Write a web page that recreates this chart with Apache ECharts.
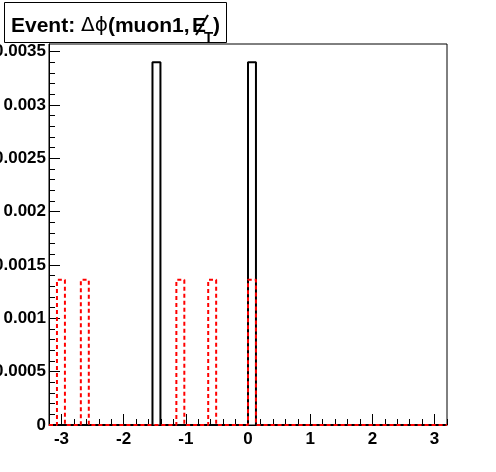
<!DOCTYPE html>
<html><head><meta charset="utf-8">
<script src="https://cdn.jsdelivr.net/npm/echarts@6/dist/echarts.min.js"></script>
<style>html,body{margin:0;padding:0;background:#fff}#c{width:496px;height:472px}</style>
</head><body><div id="c"></div>
<script>
// Histogram definition: 50 bins from -3.2 to 3.2
const xMin = -3.2, xMax = 3.2, nBins = 50;
const blackCounts = [
  0,0,0,0,0,0,0,0,0,0,
  0,0,0,0.0034,0,0,0,0,0,0,
  0,0,0,0,0,0.0034,0,0,0,0,
  0,0,0,0,0,0,0,0,0,0,
  0,0,0,0,0,0,0,0,0,0
];
const redCounts = [
  0,0.00136,0,0,0.00136,0,0,0,0,0,
  0,0,0,0,0,0,0.00136,0,0,0,
  0.00136,0,0,0,0,0.00136,0,0,0,0,
  0,0,0,0,0,0,0,0,0,0,
  0,0,0,0,0,0,0,0,0,0
];
const xTickLabels = [-3,-2,-1,0,1,2,3];
const yTickValues = [0,0.0005,0.001,0.0015,0.002,0.0025,0.003,0.0035];
const yMax = 0.00357;

function outline(counts){
  const w = (xMax - xMin) / nBins;
  const pts = [[xMin, 0]];
  counts.forEach((v, i) => {
    const l = xMin + i * w, r = l + w;
    pts.push([l, v], [r, v]);
  });
  pts.push([xMax, 0]);
  return pts;
}
const xMinor = [];
for (let k = -16; k <= 16; k++) xMinor.push(+(k * 0.2).toFixed(1));
const yMinor = [];
for (let k = 0; k <= 35; k++) yMinor.push(+(k * 0.0001).toFixed(4));

const font = 'Liberation Sans, Arial, Helvetica, sans-serif';
const chart = echarts.init(document.getElementById('c'), null, {renderer:'canvas'});
const grid = {left:49, right:49, top:44, bottom:47, show:true, borderColor:'#000', borderWidth:1, backgroundColor:'#fff', containLabel:false, outerBoundsMode:'none'};
const tickStyle = {color:'#000', width:1};
chart.setOption({
  animation:false,
  backgroundColor:'#fff',
  grid: grid,
  xAxis: [{
    type:'value', min:xMin, max:xMax,
    axisLine:{show:true, onZero:false, lineStyle:{color:'#000', width:1}},
    axisTick:{show:true, inside:true, length:11, lineStyle:tickStyle, customValues:xTickLabels},
    axisLabel:{show:true, customValues:xTickLabels, margin:6, color:'#000', fontFamily:font, fontWeight:'bold', fontSize:17},
    splitLine:{show:false}
  },{
    type:'value', min:xMin, max:xMax, position:'bottom',
    axisLine:{show:false, onZero:false},
    axisTick:{show:true, inside:true, length:6, lineStyle:tickStyle, customValues:xMinor},
    axisLabel:{show:false},
    splitLine:{show:false}
  }],
  yAxis: [{
    type:'value', min:0, max:yMax, position:'left',
    axisLine:{show:true, onZero:false, lineStyle:{color:'#000', width:1}},
    axisTick:{show:true, inside:true, length:11, lineStyle:tickStyle, customValues:yTickValues},
    axisLabel:{show:true, customValues:yTickValues, margin:3, color:'#000', fontFamily:font, fontWeight:'bold', fontSize:17,
      formatter: v => String(parseFloat(v.toFixed(4)))},
    splitLine:{show:false}
  },{
    type:'value', min:0, max:yMax, position:'left',
    axisLine:{show:false, onZero:false},
    axisTick:{show:true, inside:true, length:6, lineStyle:tickStyle, customValues:yMinor},
    axisLabel:{show:false},
    splitLine:{show:false}
  }],
  series: [{
    type:'line', data: outline(blackCounts), xAxisIndex:0, yAxisIndex:0,
    symbol:'none', clip:false,
    lineStyle:{color:'#000', width:2}
  },{
    type:'line', data: outline(redCounts), xAxisIndex:0, yAxisIndex:0,
    symbol:'none', clip:false,
    lineStyle:{color:'#ff0000', width:2, type:[4,3]}
  }],
  graphic: [
    {type:'rect', z:10, shape:{x:4.5, y:2.5, width:222, height:40}, style:{fill:'#fff', stroke:'#000', lineWidth:1}},
    {type:'text', z:11, x:11, y:26, style:{
      text:'{a|Event: }{g|Δϕ}{a|(muon1,}', verticalAlign:'middle',
      rich:{
        a:{fontFamily:font, fontWeight:'bold', fontSize:21, fill:'#000'},
        g:{fontFamily:'DejaVu Sans, sans-serif', fontWeight:'normal', fontSize:20, fill:'#000'}
      }}},
    {type:'text', z:11, x:192, y:26, style:{text:'E', verticalAlign:'middle', fontFamily:font, fontWeight:'bold', fontSize:21, fill:'#000'}},
    {type:'line', z:12, shape:{x1:208, y1:15, x2:196, y2:35}, style:{stroke:'#000', lineWidth:2}},
    {type:'text', z:11, x:204, y:38, style:{text:'T', verticalAlign:'middle', fontFamily:font, fontWeight:'bold', fontSize:15, fill:'#000'}},
    {type:'text', z:11, x:213, y:26, style:{text:')', verticalAlign:'middle', fontFamily:font, fontWeight:'bold', fontSize:21, fill:'#000'}}
  ]
});
</script></body></html>
